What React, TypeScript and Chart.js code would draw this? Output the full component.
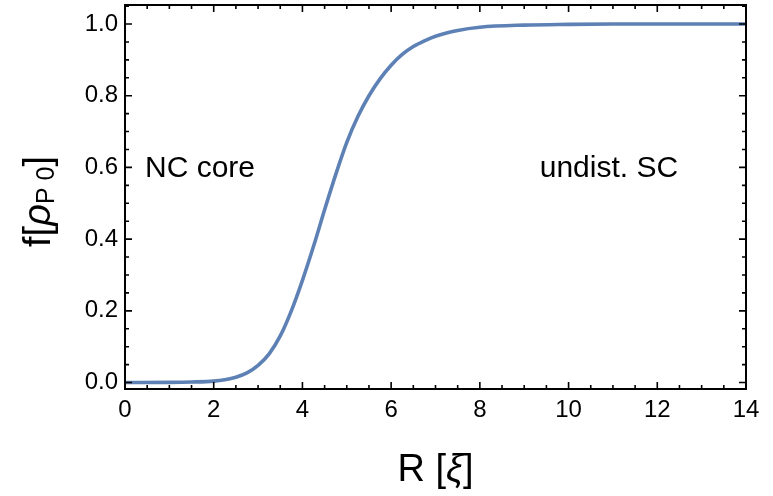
import React, { useEffect, useRef } from "react";
import { Chart, registerables } from "chart.js";

Chart.register(...registerables);

// Curve
const radii = [0, 1, 1.5, 2, 2.25, 2.5, 2.75, 3, 3.25, 3.5, 3.75, 4, 4.25, 4.5, 4.75, 5, 5.25, 5.5, 5.75, 6, 6.25, 6.5, 6.75, 7, 7.5, 8, 9, 10, 11, 12, 14];
const fValues = [0, 0.0005, 0.0015, 0.004, 0.008, 0.015, 0.027, 0.048, 0.08, 0.13, 0.2, 0.285, 0.38, 0.482, 0.58, 0.67, 0.742, 0.8, 0.847, 0.885, 0.915, 0.937, 0.953, 0.966, 0.982, 0.991, 0.997, 0.999, 1, 1, 1];

const xTicks = [0, 2, 4, 6, 8, 10, 12, 14];
const xTickLabels = ["0", "2", "4", "6", "8", "10", "12", "14"];
const yTicks = [0, 0.2, 0.4, 0.6, 0.8, 1.0];
const yTickLabels = ["0.0", "0.2", "0.4", "0.6", "0.8", "1.0"];

const annotations = [
  { text: "NC core", x: 0.45, y: 0.574 },
  { text: "undist. SC", x: 9.35, y: 0.574 },
];

const FONT = "'Liberation Sans', Arial, Helvetica, sans-serif";

const framePlugin = {
  id: "framePlugin",
  afterDraw(chart: any) {
    const { ctx, chartArea } = chart;
    const xs = chart.scales.x;
    const ys = chart.scales.y;
    const { left, right, top, bottom } = chartArea;
    ctx.save();
    ctx.strokeStyle = "#000";
    ctx.lineWidth = 1.6;
    for (let k = 0; k <= 28; k++) {
      const v = k * 0.5;
      if (v < xs.min || v > xs.max) continue;
      const len = k % 4 === 0 ? 7 : 4;
      const px = xs.getPixelForValue(v);
      ctx.beginPath();
      ctx.moveTo(px, bottom);
      ctx.lineTo(px, bottom - len);
      ctx.moveTo(px, top);
      ctx.lineTo(px, top + len);
      ctx.stroke();
    }
    for (let k = 0; k <= 21; k++) {
      const v = k * 0.05;
      if (v < ys.min || v > ys.max) continue;
      const len = k % 4 === 0 ? 7 : 4;
      const py = ys.getPixelForValue(v);
      ctx.beginPath();
      ctx.moveTo(left, py);
      ctx.lineTo(left + len, py);
      ctx.moveTo(right, py);
      ctx.lineTo(right - len, py);
      ctx.stroke();
    }
    ctx.lineWidth = 2;
    ctx.strokeRect(left, top, right - left, bottom - top);

    ctx.fillStyle = "#000";
    ctx.font = `30px ${FONT}`;
    ctx.textAlign = "left";
    ctx.textBaseline = "alphabetic";
    for (const a of annotations) {
      ctx.fillText(a.text, xs.getPixelForValue(a.x), ys.getPixelForValue(a.y));
    }

    const segsX = [
      { t: "R [", f: `38px ${FONT}` },
      { t: "ξ", f: `italic 38px ${FONT}` },
      { t: "]", f: `38px ${FONT}` },
    ];
    let total = 0;
    for (const s of segsX) { ctx.font = s.f; total += ctx.measureText(s.t).width; }
    let cx = (left + right) / 2 - total / 2;
    for (const s of segsX) {
      ctx.font = s.f;
      ctx.fillText(s.t, cx, 481);
      cx += ctx.measureText(s.t).width;
    }

    const segsY = [
      { t: "f[", f: `38px ${FONT}`, dy: 0 },
      { t: "ρ", f: `italic 38px ${FONT}`, dy: 0 },
      { t: "P 0", f: `25px ${FONT}`, dy: 4 },
      { t: "]", f: `38px ${FONT}`, dy: 0 },
    ];
    total = 0;
    for (const s of segsY) { ctx.font = s.f; total += ctx.measureText(s.t).width; }
    ctx.translate(50, 201.5);
    ctx.rotate(-Math.PI / 2);
    let cy = -total / 2;
    for (const s of segsY) {
      ctx.font = s.f;
      ctx.fillText(s.t, cy, s.dy);
      cy += ctx.measureText(s.t).width;
    }
    ctx.restore();
  },
};

export default function App() {
  const ref = useRef<HTMLCanvasElement | null>(null);
  useEffect(() => {
    if (!ref.current) return;
    const data = radii.map((r, i) => ({ x: r, y: fValues[i] }));
    const chart = new Chart(ref.current, {
      type: "line",
      data: {
        datasets: [
          {
            data,
            borderColor: "#5E81B5",
            borderWidth: 3.6,
            pointRadius: 0,
            cubicInterpolationMode: "monotone",
            fill: false,
          },
        ],
      },
      options: {
        animation: false,
        responsive: false,
        maintainAspectRatio: false,
        events: [],
        layout: { padding: { top: 5, right: 27, bottom: 0, left: 0 } },
        plugins: { legend: { display: false }, tooltip: { enabled: false } },
        scales: {
          x: {
            type: "linear",
            min: 0,
            max: 14,
            grid: { display: false, drawTicks: false },
            border: { display: false },
            afterBuildTicks: (s: any) => { s.ticks = xTicks.map((v) => ({ value: v })); },
            afterFit: (s: any) => { s.height = 107; s.paddingLeft = 0; s.paddingRight = 0; },
            ticks: {
              padding: 7,
              color: "#000",
              font: { family: FONT, size: 24 },
              maxRotation: 0,
              callback: (v: any) => { const i = xTicks.indexOf(Number(v)); return i >= 0 ? xTickLabels[i] : ""; },
            },
          },
          y: {
            type: "linear",
            min: -0.018,
            max: 1.053,
            grid: { display: false, drawTicks: false },
            border: { display: false },
            afterBuildTicks: (s: any) => { s.ticks = yTicks.map((v) => ({ value: v })); },
            afterFit: (s: any) => { s.width = 125; s.paddingTop = 0; s.paddingBottom = 0; },
            ticks: {
              padding: 7,
              color: "#000",
              font: { family: FONT, size: 24 },
              callback: (v: any) => {
                const i = yTicks.findIndex((t) => Math.abs(t - Number(v)) < 1e-9);
                return i >= 0 ? yTickLabels[i] : "";
              },
            },
          },
        },
      },
      plugins: [framePlugin],
    });
    return () => chart.destroy();
  }, []);
  return (
    <div style={{ position: "fixed", left: 0, top: 0, width: 773, height: 496, background: "#fff" }}>
      <canvas ref={ref} width={773} height={496} />
    </div>
  );
}
